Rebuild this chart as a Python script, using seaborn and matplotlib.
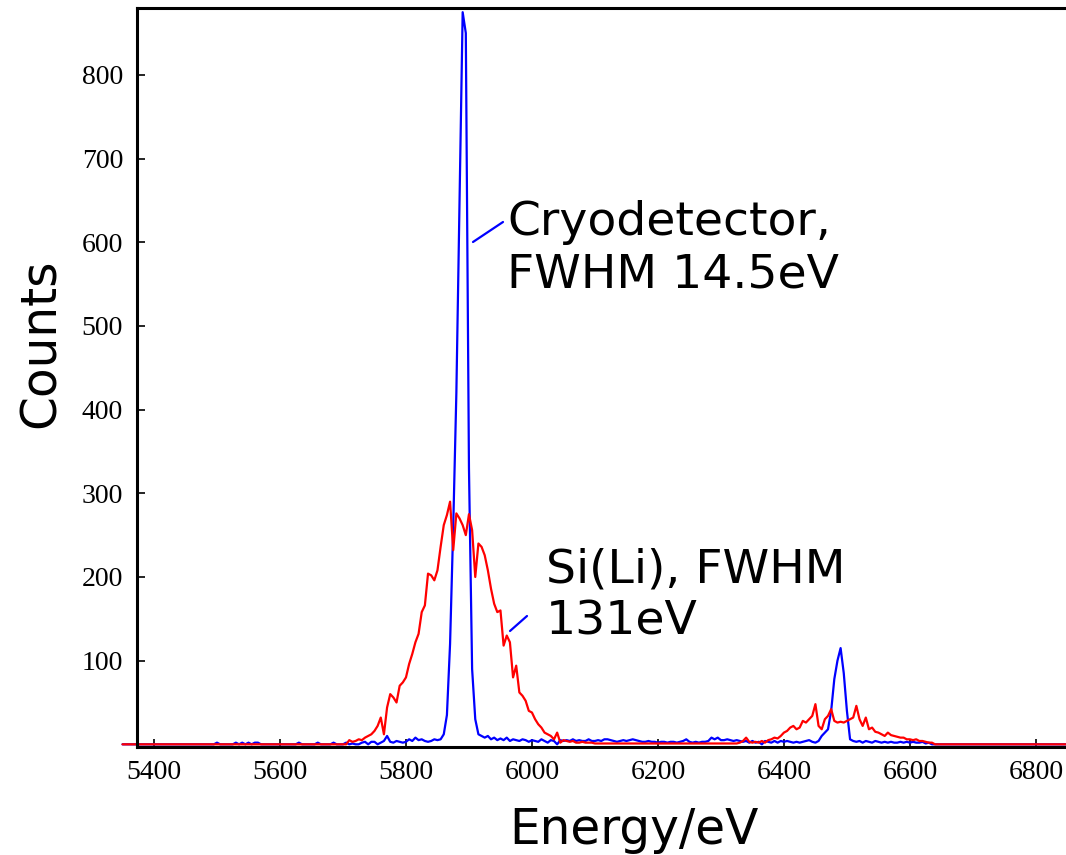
import numpy as np
import pandas as pd
import matplotlib
matplotlib.use("Agg")
import matplotlib.pyplot as plt
from matplotlib.lines import Line2D
import seaborn as sns

# ---------------- data (5 eV channels starting at 5350 eV) ----------------
ENERGY_START = 5350
ENERGY_STEP = 5

cryo_counts = [
    0, 0, 0, 0, 0, 0, 0, 0, 0, 0,            # 5350
    0, 0, 0, 0, 0, 0, 0, 0, 0, 0,            # 5400
    0, 0, 0, 0, 0, 0, 0, 0, 0, 0,            # 5450
    2, 0, 0, 0, 0, 0, 2, 0, 2, 0,            # 5500
    2, 0, 2, 2, 0, 0, 0, 0, 0, 0,            # 5550
    0, 0, 0, 0, 0, 0, 2, 0, 0, 0,            # 5600
    0, 0, 2, 0, 0, 0, 0, 2, 0, 0,            # 5650
    0, 2, 0, 1, 0, 0, 2, 3, 0, 3,            # 5700
    3, 0, 2, 4, 10, 3, 2, 4, 3, 2,           # 5750
    3, 6, 4, 8, 5, 6, 4, 3, 4, 6,            # 5800
    5, 6, 12, 35, 120, 260, 420, 650, 875, 850,  # 5850
    330, 90, 30, 12, 10, 8, 10, 6, 8, 5,     # 5900
    7, 5, 8, 4, 6, 5, 4, 6, 5, 3,            # 5950
    5, 4, 3, 6, 4, 2, 5, 4, 0, 5,            # 6000
    4, 5, 4, 6, 4, 5, 4, 4, 6, 4,            # 6050
    4, 5, 4, 6, 6, 5, 4, 3, 4, 5,            # 6100
    4, 5, 6, 5, 4, 3, 3, 4, 3, 3,            # 6150
    2, 3, 3, 2, 3, 3, 2, 3, 4, 6,            # 6200
    3, 2, 3, 2, 3, 3, 4, 8, 6, 8,            # 6250
    5, 5, 6, 5, 4, 5, 4, 3, 4, 2,            # 6300
    4, 2, 3, 0, 4, 3, 2, 4, 2, 4,            # 6350
    3, 4, 3, 2, 3, 2, 3, 4, 5, 3,            # 6400
    2, 4, 10, 14, 18, 40, 78, 100, 115, 85,  # 6450
    40, 6, 4, 3, 4, 2, 4, 3, 2, 4,           # 6500
    3, 2, 3, 2, 3, 2, 2, 3, 2, 3,            # 6550
    2, 3, 2, 2, 3, 1, 2, 0, 0, 0,            # 6600
    0, 0, 0, 0, 0, 0, 0, 0, 0, 0,            # 6650
    0, 0, 0, 0, 0, 0, 0, 0, 0, 0,            # 6700
    0, 0, 0, 0, 0, 0, 0, 0, 0, 0,            # 6750
    0, 0, 0, 0, 0, 0, 0, 0, 0, 0,            # 6800
    0,                                       # 6850
]

sili_counts = [
    0, 0, 0, 0, 0, 0, 0, 0, 0, 0,            # 5350
    0, 0, 0, 0, 0, 0, 0, 0, 0, 0,            # 5400
    0, 0, 0, 0, 0, 0, 0, 0, 0, 0,            # 5450
    0, 0, 0, 0, 0, 0, 0, 0, 0, 0,            # 5500
    0, 0, 0, 0, 0, 0, 0, 0, 0, 0,            # 5550
    0, 0, 0, 0, 0, 0, 0, 0, 0, 0,            # 5600
    0, 0, 0, 0, 0, 0, 0, 0, 0, 0,            # 5650
    0, 0, 5, 3, 4, 6, 5, 8, 10, 12,          # 5700
    16, 22, 32, 12, 44, 60, 56, 50, 70, 74,  # 5750
    80, 96, 108, 122, 132, 158, 166, 204, 202, 196,  # 5800
    208, 236, 262, 274, 290, 232, 276, 270, 262, 250,  # 5850
    275, 256, 200, 240, 236, 226, 208, 186, 168, 158,  # 5900
    160, 118, 130, 122, 80, 94, 62, 58, 52, 40,        # 5950
    38, 30, 24, 20, 14, 12, 10, 6, 14, 2,    # 6000
    5, 4, 3, 4, 2, 2, 3, 2, 2, 2,            # 6050
    1, 1, 1, 1, 1, 1, 1, 1, 1, 1,            # 6100
    1, 1, 1, 1, 1, 1, 1, 1, 1, 1,            # 6150
    1, 1, 1, 1, 1, 1, 1, 1, 1, 1,            # 6200
    1, 1, 1, 1, 1, 1, 1, 1, 1, 1,            # 6250
    1, 1, 1, 1, 1, 1, 2, 4, 8, 3,            # 6300
    2, 3, 2, 4, 2, 5, 6, 8, 7, 10,           # 6350
    14, 16, 20, 22, 18, 20, 28, 26, 30, 34,  # 6400
    48, 22, 18, 30, 34, 42, 28, 26, 27, 26,  # 6450
    28, 30, 32, 46, 30, 22, 32, 18, 20, 15,  # 6500
    14, 12, 10, 14, 11, 10, 9, 8, 8, 6,      # 6550
    6, 5, 6, 4, 4, 3, 2, 2, 0, 0,            # 6600
    0, 0, 0, 0, 0, 0, 0, 0, 0, 0,            # 6650
    0, 0, 0, 0, 0, 0, 0, 0, 0, 0,            # 6700
    0, 0, 0, 0, 0, 0, 0, 0, 0, 0,            # 6750
    0, 0, 0, 0, 0, 0, 0, 0, 0, 0,            # 6800
    0,                                       # 6850
]

energy = ENERGY_START + ENERGY_STEP * np.arange(len(cryo_counts))

x_ticks = [5400, 5600, 5800, 6000, 6200, 6400, 6600, 6800]
y_ticks = [100, 200, 300, 400, 500, 600, 700, 800]

cryo_label = "Cryodetector,\nFWHM 14.5eV"
sili_label = "Si(Li), FWHM\n131eV"
x_label = "Energy/eV"
y_label = "Counts"

df = pd.DataFrame({"energy": energy, "cryo": cryo_counts, "sili": sili_counts})

# ---------------- figure ----------------
sns.set_style("ticks")
plt.rcParams["font.family"] = ["DejaVu Sans"]
plt.rcParams["text.color"] = "black"
plt.rcParams["axes.labelcolor"] = "black"
plt.rcParams["xtick.color"] = "black"
plt.rcParams["ytick.color"] = "black"

W, H = 1066, 855
fig = plt.figure(figsize=(W / 100, H / 100), dpi=100)
fig.patch.set_facecolor("white")

def fx(px):
    return px / W

def fy(py):
    return 1 - py / H

ax_left, ax_right, ax_top, ax_bottom = 137, 1131, 8, 746.5
ax = fig.add_axes([fx(ax_left), fy(ax_bottom), (ax_right - ax_left) / W, (ax_bottom - ax_top) / H])
ax.set_facecolor("white")

sns.lineplot(data=df, x="energy", y="cryo", ax=ax, color="#0000ff", lw=1.6, clip_on=False)
sns.lineplot(data=df, x="energy", y="sili", ax=ax, color="#ff0000", lw=1.6, clip_on=False)

ax.set_xlim(5373, 6951)
ax.set_ylim(-2.6, 880)
ax.set_xticks(x_ticks)
ax.set_yticks(y_ticks)
ax.set_xlabel("")
ax.set_ylabel("")

for s in ["left", "bottom", "top", "right"]:
    ax.spines[s].set_linewidth(2.2)
    ax.spines[s].set_color("black")

ax.tick_params(axis="both", direction="in", length=6, width=1.2, color="black",
               labelcolor="black")
ax.tick_params(axis="y", pad=10)
ax.tick_params(axis="x", pad=10)
for lab in ax.get_xticklabels() + ax.get_yticklabels():
    lab.set_fontfamily("Liberation Serif")
    lab.set_fontsize(20)
    lab.set_color("black")

# axis titles
fig.text(fx(634), fy(844), x_label, ha="center", va="baseline", fontsize=35,
         family="DejaVu Sans", color="black")
fig.text(fx(55), fy(343), y_label, ha="center", va="baseline", rotation=90,
         rotation_mode="anchor", fontsize=35, family="DejaVu Sans", color="black")

# annotations (va='baseline' aligns the last line's baseline)
fig.text(fx(507), fy(287), cryo_label, ha="left", va="baseline", fontsize=34,
         family="DejaVu Sans", linespacing=1.2, color="black")
fig.text(fx(546), fy(634), sili_label, ha="left", va="baseline", fontsize=34,
         family="DejaVu Sans", linespacing=1.2, color="black")

fig.add_artist(Line2D([fx(473), fx(503)], [fy(242), fy(222)], transform=fig.transFigure,
                      color="#0000ff", lw=1.6))
fig.add_artist(Line2D([fx(510), fx(527)], [fy(631), fy(616)], transform=fig.transFigure,
                      color="#0000ff", lw=1.6))

fig.savefig("out.png", dpi=100, facecolor="white")
